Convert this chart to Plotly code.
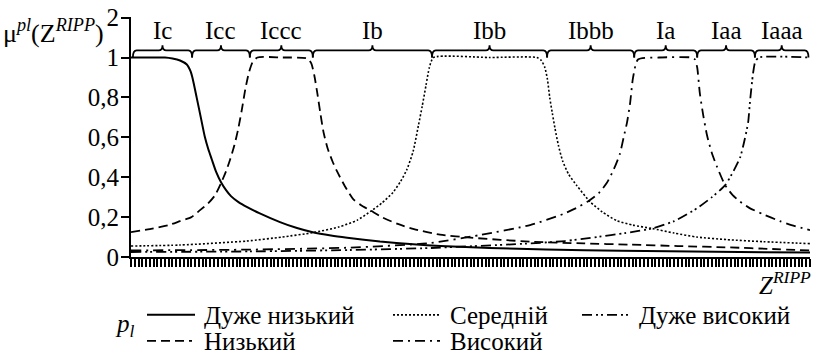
import plotly.graph_objects as go

# ---------------- data ----------------
z_very_low = [0, 5, 9, 11, 13, 14.8, 15.8, 16.4, 17.4, 18.5, 19.6, 20.5, 21.4, 22.6, 23.9, 25.2, 26.5, 28.5, 30.8,
              34, 39.5, 44, 48.2, 53, 57.3, 66, 74.8, 82, 95, 110, 130, 155, 180]
mu_very_low = [1, 1, 1, 0.995, 0.985, 0.965, 0.93, 0.89, 0.80, 0.70, 0.60, 0.54, 0.49, 0.425, 0.373, 0.335, 0.305,
               0.275, 0.25, 0.22, 0.175, 0.145, 0.124, 0.108, 0.097, 0.078, 0.064, 0.055, 0.045, 0.038, 0.031,
               0.026, 0.022]

z_low = [0, 5, 10, 13, 16, 18.3, 20.5, 22.3, 23.9, 25.2, 26.3, 27.4, 28.4, 29.4, 30.3, 31.2, 32.2, 33.5, 40,
         46.8, 47.8, 48.6, 49.4, 50.2, 51.1, 52.2, 53.4, 54.6, 56.7, 58.9, 61, 63.6, 66.5, 70.5, 75, 81.9, 90,
         105.8, 120, 132.3, 145, 158.8, 170, 180]
mu_low = [0.125, 0.14, 0.16, 0.18, 0.2, 0.235, 0.27, 0.31, 0.372, 0.43, 0.49, 0.56, 0.64, 0.74, 0.84, 0.92, 0.975,
          1, 1, 0.995, 0.97, 0.91, 0.82, 0.72, 0.62, 0.54, 0.48, 0.43, 0.355, 0.29, 0.26, 0.232, 0.2, 0.167, 0.14,
          0.112, 0.097, 0.077, 0.068, 0.062, 0.055, 0.048, 0.04, 0.033]

z_medium = [0, 13, 30.7, 40, 48.2, 55, 60, 63.6, 66.5, 69.5, 71.5, 73.1, 74.8, 76.2, 77.2, 78.2, 79.1, 80.2, 95,
            107.6, 108.8, 109.7, 110.4, 111, 111.7, 112.4, 113.3, 114.4, 116, 118.1, 121.7, 125, 128.8, 133,
            138.1, 144, 150, 158, 167.5, 180]
mu_medium = [0.055, 0.06, 0.08, 0.1, 0.122, 0.15, 0.185, 0.23, 0.27, 0.325, 0.38, 0.437, 0.53, 0.66, 0.756, 0.86,
             0.95, 1, 1, 1, 0.985, 0.95, 0.89, 0.80, 0.72, 0.645, 0.56, 0.483, 0.415, 0.36, 0.277, 0.225, 0.182,
             0.16, 0.143, 0.12, 0.10, 0.087, 0.077, 0.067]

z_high = [0, 31.5, 58, 79.3, 92.5, 105.8, 114.5, 118, 121.2, 124, 126.2, 128, 129.6, 130.6, 131.5, 132.3, 133.1,
          134.4, 140, 148.5, 149.5, 150.1, 150.8, 151.7, 152.7, 154, 155.4, 157.5, 159.5, 161.5, 164, 167.5,
          172, 176, 180]
mu_high = [0.033, 0.037, 0.047, 0.07, 0.11, 0.16, 0.215, 0.245, 0.28, 0.32, 0.373, 0.44, 0.517, 0.6, 0.675, 0.77,
           0.9, 0.99, 1, 1, 0.99, 0.95, 0.82, 0.71, 0.61, 0.52, 0.45, 0.36, 0.31, 0.277, 0.245, 0.215, 0.18,
           0.155, 0.135]

z_very_high = [0, 31.5, 58, 79.3, 105.8, 115, 123.5, 131, 138.1, 144, 150.1, 154, 157.5, 159.7, 161.5, 162.7,
               163.6, 164.1, 164.9, 165.5, 166.5, 180]
mu_very_high = [0.025, 0.028, 0.035, 0.045, 0.068, 0.08, 0.10, 0.12, 0.143, 0.18, 0.245, 0.3, 0.36, 0.43, 0.5,
                0.59, 0.675, 0.78, 0.92, 0.98, 1, 1]

term_names = ["Дуже низький", "Низький", "Середній", "Високий", "Дуже високий"]

interval_bounds = [0.5, 16.2, 31.5, 48.2, 79.8, 110.3, 133.4, 150.1, 165.4, 179.6]
interval_labels = ["Ic", "Icc", "Iccc", "Ib", "Ibb", "Ibbb", "Ia", "Iaa", "Iaaa"]

y_tick_vals = [0, 0.2, 0.4, 0.6, 0.8, 1.0, 1.2]
y_tick_text = ["0", "0,2", "0,4", "0,6", "0,8", "1", "2"]  # top label is partly hidden in the original

# ---------------- styling ----------------
FONT = "Liberation Serif"
W, H = 814, 359
ML, MR, MT, MB = 131, 4, 8, 102
PW, PH = W - ML - MR, H - MT - MB
Y_TOP = 1.203


def pxx(px):
    return (px - ML) / PW


def pxy(py):
    return (H - MB - py) / PH


series = [
    (z_very_low, mu_very_low, dict(color="black", width=2.0, dash="solid")),
    (z_low, mu_low, dict(color="black", width=1.8, dash="9px,5px")),
    (z_medium, mu_medium, dict(color="black", width=1.6, dash="2px,2px")),
    (z_high, mu_high, dict(color="black", width=1.8, dash="10px,5px,2px,5px")),
    (z_very_high, mu_very_high, dict(color="black", width=1.8, dash="10px,4px,2px,3px,2px,4px")),
]

fig = go.Figure()
for (zz, mm, ln), name in zip(series, term_names):
    fig.add_trace(go.Scatter(x=zz, y=mm, mode="lines", name=name, showlegend=False,
                             line=dict(shape="spline", smoothing=0.6, **ln)))

# ---------------- braces over intervals ----------------
y_end, y_line, y_tip = 1.0, 1.036, 1.062
r = 1.0
shapes = []
annotations = []
for a, b, lab in zip(interval_bounds[:-1], interval_bounds[1:], interval_labels):
    m = (a + b) / 2
    path = (f"M{a},{y_end} Q{a},{y_line} {a + r},{y_line} L{m - r},{y_line} "
            f"Q{m},{y_line} {m},{y_tip} Q{m},{y_line} {m + r},{y_line} "
            f"L{b - r},{y_line} Q{b},{y_line} {b},{y_end}")
    shapes.append(dict(type="path", path=path, xref="x", yref="y",
                       line=dict(color="black", width=1.8)))
    annotations.append(dict(x=m, y=1.135, xref="x", yref="y", text=lab, showarrow=False,
                            font=dict(family=FONT, size=25, color="black"),
                            xanchor="center", yanchor="middle"))

# ---------------- legend (manual, 3 columns x 2 rows) ----------------
legend_slots = [  # (sample x0, sample x1, text x, row y) in pixels
    (147, 195, 202, 317),
    (147, 192, 202, 344),
    (393, 440, 448, 317),
    (393, 440, 448, 344),
    (582, 630, 637, 317),
]
for (x0, x1, xt, yy), (_, _, ln), name in zip(legend_slots, series, term_names):
    shapes.append(dict(type="line", xref="paper", yref="paper", x0=pxx(x0), x1=pxx(x1),
                       y0=pxy(yy), y1=pxy(yy), line=dict(color="black", width=ln["width"], dash=ln["dash"])))
    annotations.append(dict(x=pxx(xt), y=pxy(yy + 1), xref="paper", yref="paper", text=name,
                            showarrow=False, xanchor="left", yanchor="middle",
                            font=dict(family=FONT, size=25, color="black")))

annotations.append(dict(x=pxx(125), y=pxy(328), xref="paper", yref="paper", text="<i>p<sub>l</sub></i>",
                        showarrow=False, xanchor="center", yanchor="middle",
                        font=dict(family=FONT, size=25, color="black")))

# axis titles
annotations.append(dict(x=pxx(105), y=pxy(23), xref="paper", yref="paper",
                        text="μ<sup><i>pl</i></sup>(Z<sup><i>RIPP</i></sup>)",
                        showarrow=False, xanchor="right", yanchor="middle",
                        borderpad=0, font=dict(family=FONT, size=26, color="black")))
annotations.append(dict(x=pxx(813), y=pxy(284), xref="paper", yref="paper",
                        text="<i>Z<sup>RIPP</sup></i>",
                        showarrow=False, xanchor="right", yanchor="middle",
                        font=dict(family=FONT, size=25, color="black")))

fig.update_layout(
    width=W, height=H,
    margin=dict(l=ML, r=MR, t=MT, b=MB),
    paper_bgcolor="white", plot_bgcolor="white",
    shapes=shapes, annotations=annotations,
    font=dict(family=FONT, size=24, color="black"),
    xaxis=dict(range=[0, 180], showgrid=False, zeroline=False, showline=True, linecolor="black",
               linewidth=2, ticks="outside", ticklen=8, tickwidth=1.6, tickcolor="black",
               tick0=0, dtick=1, showticklabels=False),
    yaxis=dict(range=[0, Y_TOP], showgrid=False, zeroline=False, showline=True, linecolor="black",
               linewidth=2, ticks="outside", ticklen=8, tickwidth=1.6, tickcolor="black",
               tickvals=y_tick_vals, ticktext=y_tick_text, ticklabelstandoff=-3,
               ticklabeloverflow="allow",
               tickfont=dict(family=FONT, size=25, color="black")),
)

fig.write_html("out.html", config={"displayModeBar": False},
               post_script="document.body.style.margin='0px';")
